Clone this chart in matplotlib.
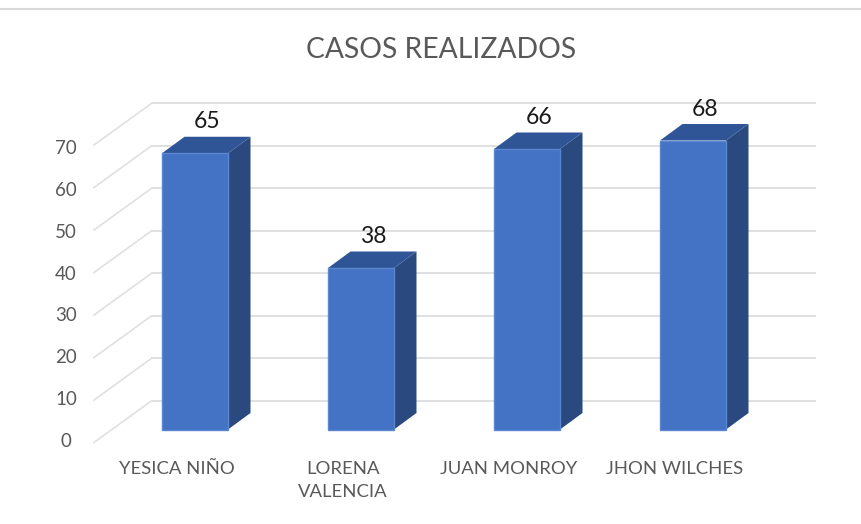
"""Casos realizados: Excel-style 3D column chart."""
import matplotlib
matplotlib.use("Agg")
import matplotlib.pyplot as plt
from matplotlib.patches import Polygon

names = ["YESICA NIÑO", "LORENA\nVALENCIA", "JUAN MONROY", "JHON WILCHES"]
casos = [65, 38, 66, 68]
yticks = [0, 10, 20, 30, 40, 50, 60, 70]

W, H = 862, 524
X0, XSTEP = 195.0, 166.0   # px of first bar centre, px between bars
Y0, YUNIT = 429.5, 4.25    # px of value 0, px per unit

plt.rcParams["font.family"] = ["Lato", "DejaVu Sans"]

fig = plt.figure(figsize=(W / 100, H / 100), dpi=100)
ax = fig.add_axes([0, 0, 1, 1])
ax.set_xlim(-X0 / XSTEP, (W - X0) / XSTEP)
ax.set_ylim((Y0 - H) / YUNIT, Y0 / YUNIT)
ax.axis("off")

bar_w = 66 / XSTEP
bar_dx, bar_dy = 22.5 / XSTEP, 16.5 / YUNIT

# back wall gridlines and the diagonal floor/side lines
wall_l, wall_r = (152 - X0) / XSTEP, (815 - X0) / XSTEP
side_l = (94 - X0) / XSTEP
wall_lift, front_drop = 29 / YUNIT, 13 / YUNIT
grid = "#E0E0E0"
for v in yticks:
    ax.plot([wall_l, wall_r], [v + wall_lift] * 2, color=grid, lw=1.4, zorder=1)
    ax.plot([side_l, wall_l], [v - front_drop, v + wall_lift], color=grid, lw=1.2, zorder=1)
    # tick labels step a little tighter than the gridlines
    ax.text((66 - X0) / XSTEP, v * 0.985 - 12 / YUNIT, str(v), ha="center", va="center",
            fontsize=13.5, color="#595959")

for i, (name, val) in enumerate(zip(names, casos)):
    l, r = i - bar_w / 2, i + bar_w / 2
    ax.add_patch(Polygon([(r, 0), (r + bar_dx, bar_dy), (r + bar_dx, val + bar_dy), (r, val)],
                         fc="#2A4A7F", ec="none", zorder=3))
    ax.add_patch(Polygon([(l, val), (r, val), (r + bar_dx, val + bar_dy), (l + bar_dx, val + bar_dy)],
                         fc="#2F5597", ec="none", zorder=3))
    ax.add_patch(Polygon([(l, 0), (r, 0), (r, val), (l, val)],
                         fc="#4472C4", ec="#5B86D0", lw=1, zorder=4))
    ax.text(i + 0.075, val + bar_dy + 1.0, str(val), ha="center", va="bottom",
            fontsize=16.5, color="#1A1A1A", zorder=5)
    ax.text(i - 0.11, -31 / YUNIT, name, ha="center", va="top", fontsize=13.3,
            color="#595959", linespacing=1.55)

fig.text(441.5 / W, 1 - 50 / H, "CASOS REALIZADOS", ha="center", va="center",
         fontsize=20.3, color="#595959")
fig.add_artist(plt.Line2D([0, 1], [1 - 9 / H] * 2, color="#D9D9D9", lw=1.5))

fig.savefig("out.png", dpi=100)
